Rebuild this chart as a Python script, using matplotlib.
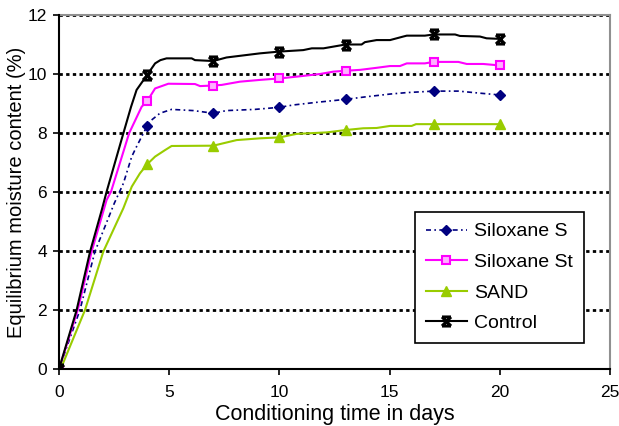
import matplotlib
matplotlib.use("Agg")
import matplotlib.pyplot as plt
from matplotlib.path import Path

plt.rcParams['font.family'] = ['Liberation Sans', 'DejaVu Sans']

# Conditioning time (days) and equilibrium moisture content (%)
days_sil_s = [0, 0.95, 1.63, 2.51, 2.92, 3.3, 3.52, 4, 4.2, 4.58, 5.11, 6.09, 7, 7.6,
              8.89, 10, 10.63, 11.69, 13, 13.96, 15.02, 15.78, 17, 18.12, 19.1, 20]
emc_sil_s = [0, 2.0, 3.98, 5.62, 6.29, 7.2, 7.54, 8.24, 8.44, 8.67, 8.8, 8.76, 8.67, 8.76,
             8.8, 8.87, 8.95, 9.04, 9.14, 9.23, 9.32, 9.37, 9.42, 9.42, 9.35, 9.29]

days_sil_st = [0, 0.85, 1.48, 2.16, 2.36, 3.18, 3.75, 4, 4.36, 4.96, 6.17, 6.4, 7, 7.38,
               8.21, 9.12, 10, 10.78, 11.84, 12.45, 13, 13.66, 14.41, 15.02, 15.47, 15.78,
               16.6, 17, 18.12, 18.5, 19.25, 20]
emc_sil_st = [0, 2.0, 3.98, 5.73, 6.01, 7.99, 8.89, 9.08, 9.51, 9.67, 9.66, 9.59, 9.61, 9.63,
              9.74, 9.8, 9.85, 9.91, 10.0, 10.08, 10.11, 10.14, 10.21, 10.27, 10.27, 10.36,
              10.36, 10.41, 10.41, 10.34, 10.34, 10.29]

days_sand = [0, 0.12, 1.18, 2.01, 2.92, 3.3, 3.67, 4, 4.36, 4.81, 5.11, 7, 8.06, 9.12, 10,
             10.78, 12.14, 13, 13.8, 14.41, 15.02, 16.0, 16.2, 17, 20]
emc_sand = [0, 0.08, 2.0, 3.98, 5.45, 6.18, 6.63, 6.94, 7.2, 7.42, 7.56, 7.57, 7.76, 7.82,
            7.85, 7.97, 8.02, 8.1, 8.16, 8.17, 8.24, 8.24, 8.3, 8.3, 8.3]

days_control = [0, 0.8, 1.41, 1.94, 2.16, 2.92, 3.27, 3.52, 4, 4.36, 4.6, 4.88, 6.02, 6.17, 7,
                7.6, 9.12, 10, 11.08, 11.47, 12.0, 13, 13.73, 13.88, 14.41, 15.02, 15.62,
                15.78, 16.6, 17, 17.97, 18.19, 19.1, 19.4, 20]
emc_control = [0, 2.0, 3.98, 5.39, 6.01, 7.99, 8.89, 9.46, 9.97, 10.36, 10.47, 10.53, 10.53,
               10.47, 10.44, 10.56, 10.7, 10.76, 10.81, 10.87, 10.87, 11.0, 11.0, 11.08,
               11.15, 11.15, 11.27, 11.3, 11.3, 11.34, 11.34, 11.29, 11.27, 11.21, 11.19]

sample_days = [0, 4, 7, 10, 13, 17, 20]

labels = ["Siloxane S", "Siloxane St", "SAND", "Control"]


def marker_idx(days):
    return [i for i, d in enumerate(days) if d in sample_days]


# X with top and bottom bars
star_path = Path(
    [(-1, -1), (1, 1), (-1, 1), (1, -1), (-1, 1), (1, 1), (-1, -1), (1, -1)],
    [Path.MOVETO, Path.LINETO, Path.MOVETO, Path.LINETO,
     Path.MOVETO, Path.LINETO, Path.MOVETO, Path.LINETO])

fig = plt.figure(figsize=(6.19, 4.26), dpi=100)
ax = fig.add_axes([59 / 619, 1 - 369 / 426, (610 - 59) / 619, (369 - 15) / 426])

ax.plot(days_sil_s, emc_sil_s, color='#000080', lw=1.2, ls=(0, (3, 2, 1, 2)),
        marker='D', ms=5.5, markevery=marker_idx(days_sil_s), label=labels[0], zorder=3)
ax.plot(days_sil_st, emc_sil_st, color='#FF00FF', lw=1.5,
        marker='s', ms=6, mfc='#FFB0FF', mec='#FF00FF', mew=1.5,
        markevery=marker_idx(days_sil_st), label=labels[1], zorder=3)
ax.plot(days_sand, emc_sand, color='#99CC00', lw=1.5,
        marker='^', ms=7, markevery=marker_idx(days_sand), label=labels[2], zorder=3)
ax.plot(days_control, emc_control, color='black', lw=1.5,
        marker=star_path, ms=6.5, mew=2.2, mec='black',
        markevery=marker_idx(days_control), label=labels[3], zorder=4)

ax.set_xlim(0, 25)
ax.set_ylim(0, 12)
ax.set_xticks([0, 5, 10, 15, 20, 25])
ax.set_yticks([0, 2, 4, 6, 8, 10, 12])

for yv in [2, 4, 6, 8, 10, 12]:
    ax.axhline(yv, color='black', lw=2, ls=(0, (1.2, 1.2)), zorder=1)

for s in ['top', 'right']:
    ax.spines[s].set_color('#909090')
    ax.spines[s].set_linewidth(1.5)
for s in ['left', 'bottom']:
    ax.spines[s].set_color('black')
    ax.spines[s].set_linewidth(1.5)
    ax.spines[s].set_zorder(5)

ax.tick_params(axis='both', direction='out', length=4.5, width=1.2, labelsize=12.5,
               colors='black')
ax.tick_params(axis='x', pad=7)
ax.tick_params(axis='y', pad=4)
ax.tick_params(top=False, right=False)

ax.set_xlabel("Conditioning time in days", fontsize=15.5, labelpad=3)
ax.set_ylabel("Equilibrium moisture content (%)", fontsize=14.5, labelpad=1)

leg = ax.legend(loc='upper left', bbox_to_anchor=((415 - 59) / 551, (369 - 212) / 354),
                borderaxespad=0, fontsize=14, frameon=True, fancybox=False,
                edgecolor='black', framealpha=1, handlelength=2.1, handletextpad=0.4,
                labelspacing=0.67, borderpad=0.55)
leg.get_frame().set_linewidth(1.2)
leg.set_zorder(6)

fig.savefig("out.png", dpi=100)
